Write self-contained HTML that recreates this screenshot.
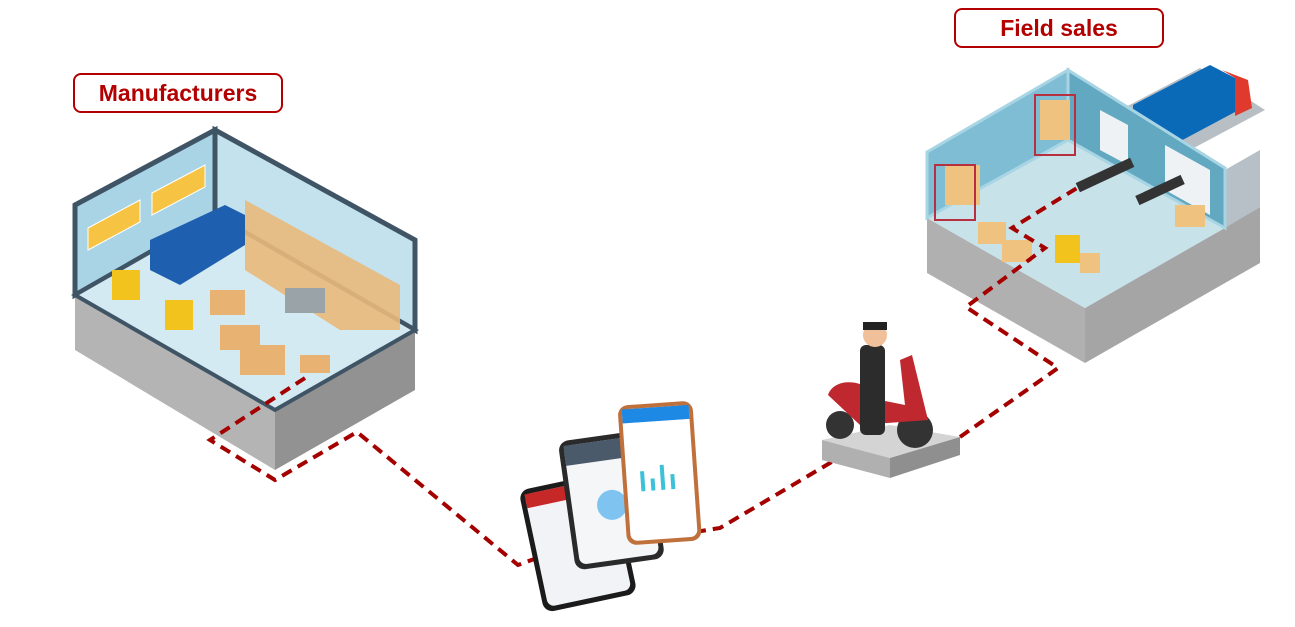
<!DOCTYPE html>
<html><head><style>
body{margin:0;background:#fff;width:1295px;height:627px;overflow:hidden;font-family:"Liberation Sans",sans-serif}
.lbl{position:absolute;border:2px solid #b30000;border-radius:8px;color:#b30000;font-weight:bold;font-size:23px;text-align:center;background:#fff;line-height:36px}
</style></head><body>
<svg width="1295" height="627" style="position:absolute;left:0;top:0">
<!-- Manufacturer building -->
<polygon points="75,295 275,410 275,470 75,350" fill="#b4b4b4"/>
<polygon points="275,410 415,330 415,390 275,470" fill="#929292"/>
<polygon points="75,205 215,130 215,215 75,295" fill="#a9d4e6" stroke="#3f5566" stroke-width="5"/>
<polygon points="215,130 415,240 415,330 215,215" fill="#c3e2ee" stroke="#3f5566" stroke-width="5"/>
<polygon points="75,295 215,215 415,330 275,410" fill="#d3eaf2" stroke="#3f5566" stroke-width="4"/>
<g fill="#f6c342" stroke="#fff" stroke-width="1"><polygon points="88,228 140,200 140,222 88,250"/><polygon points="152,193 205,165 205,187 152,215"/></g>
<polygon points="150,240 225,205 245,215 245,245 180,285 150,270" fill="#1f5fb0"/>
<polygon points="245,200 400,285 400,330 340,330 245,270" fill="#e9b97a" opacity=".9"/>
<g fill="#e8b273"><rect x="220" y="325" width="40" height="25"/><rect x="240" y="345" width="45" height="30"/><rect x="210" y="290" width="35" height="25"/><rect x="300" y="355" width="30" height="18"/></g>
<g fill="#f2c31c"><rect x="112" y="270" width="28" height="30"/><rect x="165" y="300" width="28" height="30"/></g>
<rect x="285" y="288" width="40" height="25" fill="#9aa3a8"/>
<!-- Field sales: truck & road behind -->
<polygon points="1120,110 1200,68 1265,110 1190,150" fill="#b7bec4"/>
<polygon points="1133,105 1210,65 1235,78 1235,112 1160,152 1133,138" fill="#0a6ab8"/>
<polygon points="1222,70 1248,80 1252,108 1235,116 1235,78" fill="#e03a2f"/>
<!-- Field sales base -->
<polygon points="927,218 1085,308 1085,363 927,273" fill="#b0b0b0"/>
<polygon points="1085,308 1260,207 1260,263 1085,363" fill="#a5a5a5"/>
<polygon points="1225,170 1260,150 1260,207 1225,228" fill="#b7c0c6"/>
<!-- floor and walls -->
<polygon points="927,218 1068,140 1225,228 1085,308" fill="#c8e2ea"/>
<polygon points="927,152 1068,70 1068,140 927,218" fill="#7fbdd5" stroke="#a8d5e4" stroke-width="3"/>
<polygon points="1068,70 1225,168 1225,228 1068,140" fill="#62a8c0" stroke="#a8d5e4" stroke-width="3"/>
<polygon points="1100,110 1128,125 1128,165 1100,150" fill="#eef2f4"/>
<polygon points="1165,145 1210,170 1210,215 1165,190" fill="#eef2f4"/>
<g fill="#f0c27f"><rect x="978" y="222" width="28" height="22"/><rect x="1002" y="240" width="30" height="22"/><rect x="1175" y="205" width="30" height="22"/><rect x="1040" y="100" width="30" height="40"/><rect x="945" y="165" width="35" height="40"/><rect x="1080" y="253" width="20" height="20"/></g>
<g stroke="#b73040" stroke-width="2" fill="none"><rect x="935" y="165" width="40" height="55"/><rect x="1035" y="95" width="40" height="60"/></g>
<rect x="1055" y="235" width="25" height="28" fill="#f2c31c"/>
<rect x="1135" y="185" width="50" height="10" fill="#333" transform="rotate(-25 1160 190)"/>
<rect x="1075" y="170" width="60" height="10" fill="#333" transform="rotate(-25 1105 175)"/>
<!-- dashed connector -->
<polyline points="305,378 210,440 275,480 357,432 518,565 545,555" fill="none" stroke="#a50000" stroke-width="4" stroke-dasharray="11,7"/>
<polyline points="695,532 720,528 835,460" fill="none" stroke="#a50000" stroke-width="4" stroke-dasharray="11,7"/>
<polyline points="960,437 1058,368 966,307 1045,248 1012,228 1077,188" fill="none" stroke="#a50000" stroke-width="4" stroke-dasharray="11,7"/>
<!-- Phones -->
<g transform="rotate(-12 575 540)"><rect x="530" y="480" width="95" height="125" rx="10" fill="#1b1b1b"/><rect x="535" y="485" width="85" height="115" rx="7" fill="#f1f3f6"/><rect x="535" y="485" width="85" height="14" fill="#c62828"/></g>
<g transform="rotate(-8 610 490)"><rect x="565" y="435" width="90" height="130" rx="10" fill="#2a2a2a"/><rect x="570" y="440" width="80" height="120" rx="7" fill="#f4f6f8"/><rect x="570" y="440" width="80" height="20" fill="#4a5a6a"/><circle cx="610" cy="505" r="15" fill="#7fc4f0"/></g>
<g transform="rotate(-4 660 470)"><rect x="622" y="403" width="75" height="140" rx="10" fill="#c0703a"/><rect x="626" y="407" width="67" height="132" rx="7" fill="#fff"/><rect x="626" y="407" width="67" height="14" fill="#1e88e5"/><g fill="#3cc1d8"><rect x="640" y="470" width="4" height="20"/><rect x="650" y="478" width="4" height="12"/><rect x="660" y="465" width="4" height="25"/><rect x="670" y="475" width="4" height="15"/></g></g>
<!-- Scooter platform -->
<polygon points="822,440 890,425 960,437 890,458" fill="#d4d4d4"/>
<polygon points="822,440 890,458 890,478 822,460" fill="#b0b0b0"/>
<polygon points="890,458 960,437 960,455 890,478" fill="#8f8f8f"/>
<ellipse cx="915" cy="430" rx="18" ry="18" fill="#333"/>
<ellipse cx="840" cy="425" rx="14" ry="14" fill="#333"/>
<path d="M828,395 C835,375 870,380 880,400 L905,405 L900,360 L912,355 L928,420 L860,425 Z" fill="#c0282f"/>
<rect x="860" y="345" width="25" height="90" rx="6" fill="#2c2c2c"/>
<circle cx="875" cy="335" r="12" fill="#f0c09a"/>
<rect x="863" y="322" width="24" height="8" fill="#222"/>
</svg>
<div class="lbl" style="left:73px;top:73px;width:206px;height:36px">Manufacturers</div>
<div class="lbl" style="left:954px;top:8px;width:206px;height:36px">Field sales</div>
</body></html>
